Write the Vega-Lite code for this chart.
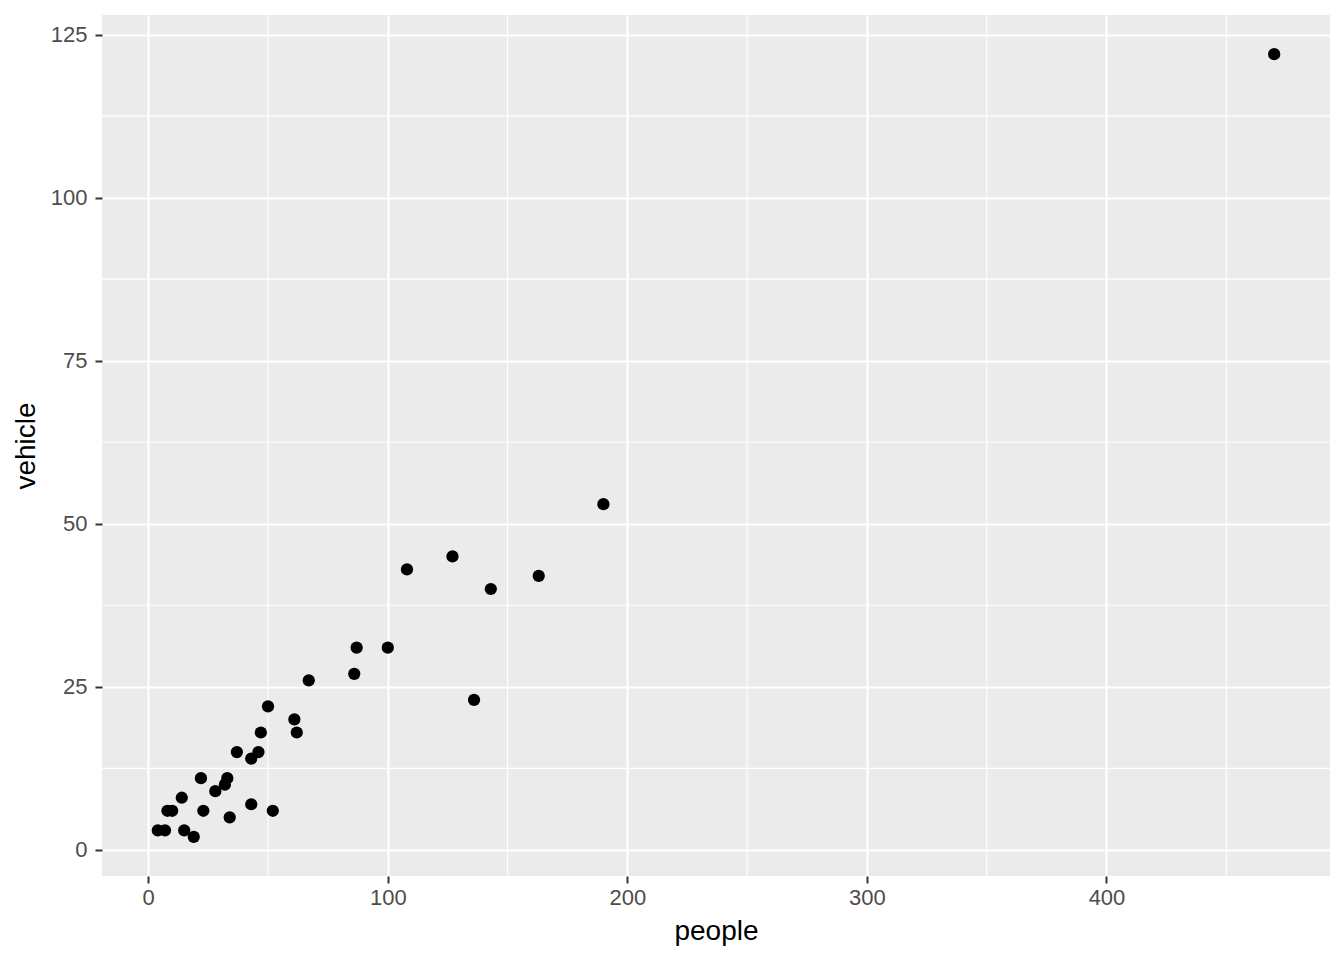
{
  "$schema": "https://vega.github.io/schema/vega-lite/v6.json",
  "width": 1228,
  "height": 861,
  "autosize": {"type": "none"},
  "padding": {"left": 102, "top": 15, "right": 14, "bottom": 84},
  "background": "white",
  "config": {
    "view": {"fill": "#EBEBEB", "stroke": null},
    "font": "Liberation Sans",
    "axis": {
      "domain": false,
      "grid": true,
      "gridColor": "white",
      "gridWidth": 2.2,
      "tickColor": "#333333",
      "tickWidth": 2,
      "tickSize": 7,
      "labelColor": "#4D4D4D",
      "labelFontSize": 22,
      "labelFont": "Liberation Sans",
      "titleFont": "Liberation Sans",
      "titleFontSize": 28,
      "titleFontWeight": "normal",
      "titleColor": "black"
    },
    "axisX": {"labelPadding": 4},
    "axisY": {"labelPadding": 8}
  },
  "datasets": {
    "pts": [
      {"people": 4, "vehicle": 3}, {"people": 7, "vehicle": 3}, {"people": 8, "vehicle": 6},
      {"people": 10, "vehicle": 6}, {"people": 14, "vehicle": 8}, {"people": 15, "vehicle": 3},
      {"people": 19, "vehicle": 2}, {"people": 22, "vehicle": 11}, {"people": 23, "vehicle": 6},
      {"people": 28, "vehicle": 9}, {"people": 32, "vehicle": 10}, {"people": 33, "vehicle": 11},
      {"people": 34, "vehicle": 5}, {"people": 37, "vehicle": 15}, {"people": 43, "vehicle": 14},
      {"people": 43, "vehicle": 7}, {"people": 46, "vehicle": 15}, {"people": 47, "vehicle": 18},
      {"people": 50, "vehicle": 22}, {"people": 52, "vehicle": 6}, {"people": 61, "vehicle": 20},
      {"people": 62, "vehicle": 18}, {"people": 67, "vehicle": 26}, {"people": 86, "vehicle": 27},
      {"people": 87, "vehicle": 31}, {"people": 100, "vehicle": 31}, {"people": 108, "vehicle": 43},
      {"people": 127, "vehicle": 45}, {"people": 136, "vehicle": 23}, {"people": 143, "vehicle": 40},
      {"people": 163, "vehicle": 42}, {"people": 190, "vehicle": 53}, {"people": 470, "vehicle": 122}
    ],
    "minorx": [{"v": 50}, {"v": 150}, {"v": 250}, {"v": 350}, {"v": 450}],
    "minory": [{"v": 12.5}, {"v": 37.5}, {"v": 62.5}, {"v": 87.5}, {"v": 112.5}]
  },
  "layer": [
    {
      "data": {"name": "minorx"},
      "mark": {"type": "rule", "color": "white", "strokeWidth": 1.1},
      "encoding": {
        "x": {"field": "v", "type": "quantitative", "scale": {"domain": [-19.3, 493.3], "nice": false, "zero": false}, "axis": {"values": [0, 100, 200, 300, 400], "title": "people", "titlePadding": 9}}
      }
    },
    {
      "data": {"name": "minory"},
      "mark": {"type": "rule", "color": "white", "strokeWidth": 1.1},
      "encoding": {
        "y": {"field": "v", "type": "quantitative", "scale": {"domain": [-4, 128], "nice": false, "zero": false}, "axis": {"values": [0, 25, 50, 75, 100, 125], "title": "vehicle", "titlePadding": 10}}
      }
    },
    {
      "data": {"name": "pts"},
      "mark": {"type": "circle", "size": 150, "color": "black", "opacity": 1},
      "encoding": {
        "x": {"field": "people", "type": "quantitative"},
        "y": {"field": "vehicle", "type": "quantitative"}
      }
    }
  ]
}
